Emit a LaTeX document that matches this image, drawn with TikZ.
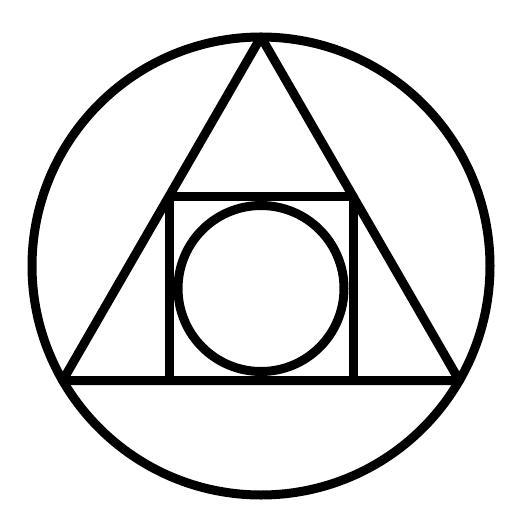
\documentclass[tikz,border=0pt]{standalone}
\usetikzlibrary{calc}
\begin{document}
\begin{tikzpicture}[x=1pt,y=-1pt,symbol/.style={draw,line width=9pt,line join=round}]
  \useasboundingbox (0,0) rectangle (530,530);
  % outer circle and the triangle inscribed in it
  \coordinate (o) at (261,266);
  \coordinate (apex) at (261,37);
  \coordinate (bl) at (62.7,380.5);
  \coordinate (br) at (459.3,380.5);
  \draw[symbol] (o) circle[radius=229];
  \draw[symbol] (apex) -- (bl) -- (br) -- cycle;
  % square standing on the base, circle inside it
  \coordinate (sq1) at (169,196.5);
  \coordinate (sq2) at (353,380.5);
  \draw[symbol] (sq1) rectangle (sq2);
  \coordinate (oi) at ($(sq1)!0.5!(sq2)$);
  \draw[symbol] (oi) circle[radius=83];
\end{tikzpicture}
\end{document}
